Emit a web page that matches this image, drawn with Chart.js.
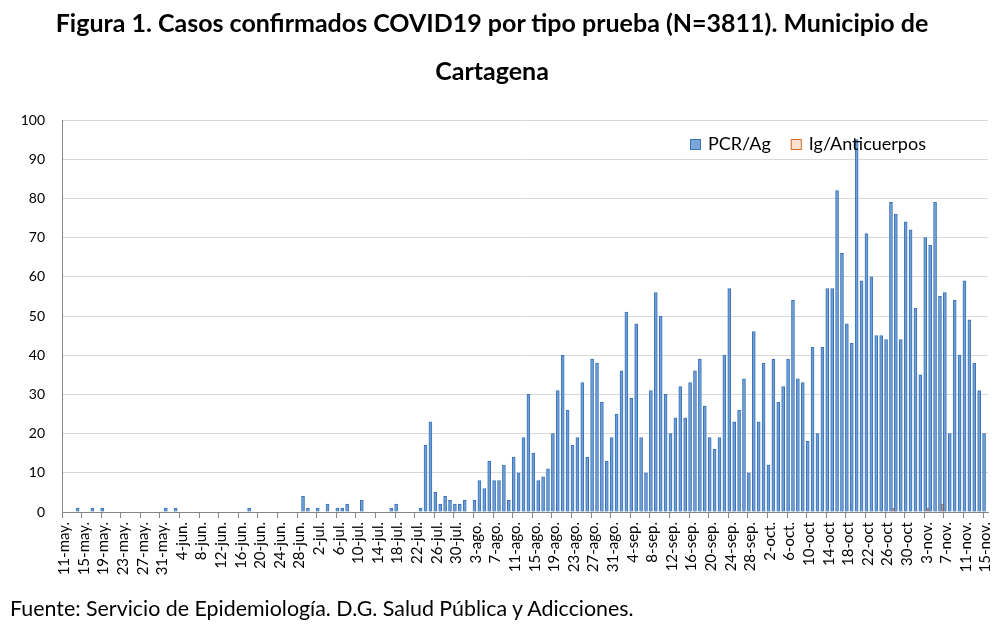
<!DOCTYPE html>
<html>
<head>
<meta charset="utf-8">
<script src="https://cdn.jsdelivr.net/npm/chart.js@4.4.1/dist/chart.umd.min.js"></script>
<style>
  html, body { margin: 0; padding: 0; background: #fff; }
  #wrap { position: relative; width: 1000px; height: 628px; overflow: hidden; font-family: Lato, "Open Sans", sans-serif; color: #000; }
  #title { position: absolute; left: -8px; top: -2px; width: 1000px; text-align: center; font-weight: bold; font-size: 25px; line-height: 48px; }
  #foot { position: absolute; left: 10px; top: 595px; font-size: 21.4px; }
  canvas { position: absolute; left: 0; top: 0; }
</style>
</head>
<body>
<div id="wrap">
  <canvas id="chart" width="1000" height="628"></canvas>
  <div id="title">Figura 1. Casos confirmados COVID19 por tipo prueba (N=3811). Municipio de<br>Cartagena</div>
  <div id="foot">Fuente: Servicio de Epidemiología. D.G. Salud Pública y Adicciones.</div>
</div>
<script>
// tick labels shown on the x axis (one every 4 days, 11-may .. 15-nov)
const tickLabels = ['11-may.','15-may.','19-may.','23-may.','27-may.','31-may.',
  '4-jun.','8-jun.','12-jun.','16-jun.','20-jun.','24-jun.','28-jun.',
  '2-jul.','6-jul.','10-jul.','14-jul.','18-jul.','22-jul.','26-jul.','30-jul.',
  '3-ago.','7-ago.','11-ago.','15-ago.','19-ago.','23-ago.','27-ago.','31-ago.',
  '4-sep.','8-sep.','12-sep.','16-sep.','20-sep.','24-sep.','28-sep.',
  '2-oct.','6-oct.','10-oct','14-oct','18-oct','22-oct','26-oct','30-oct',
  '3-nov.','7-nov.','11-nov.','15-nov.'];

// daily PCR/Ag cases, 11-may .. 15-nov (189 days)
const pcrAg = [
  0,0,0,1,0,0,1,0,1,0,
  0,0,0,0,0,0,0,0,0,0,
  0,1,0,1,0,0,0,0,0,0,
  0,0,0,0,0,0,0,0,1,0,
  0,0,0,0,0,0,0,0,0,4,
  1,0,1,0,2,0,1,1,2,0,
  0,3,0,0,0,0,0,1,2,0,
  0,0,0,1,17,23,5,2,4,3,
  2,2,3,0,3,8,6,13,8,8,
  12,3,14,10,19,30,15,8,9,11,
  20,31,40,26,17,19,33,14,39,38,
  28,13,19,25,36,51,29,48,19,10,
  31,56,50,30,20,24,32,24,33,36,
  39,27,19,16,19,40,57,23,26,34,
  10,46,23,38,12,39,28,32,39,54,
  34,33,18,42,20,42,57,57,82,66,
  48,43,95,59,71,60,45,45,44,79,
  76,44,74,72,52,35,70,68,79,55,
  56,20,54,40,59,49,38,31,20
];

// Ig/Anticuerpos: only a few days have cases
const igDays = ['27-oct', '3-nov', '6-nov'];
const igValues = [1, 1, 2];

// build the daily categories
const monthNames = ['ene','feb','mar','abr','may','jun','jul','ago','sep','oct','nov','dic'];
const categories = [];
for (let d = new Date(2020, 4, 11); d <= new Date(2020, 10, 15); d.setDate(d.getDate() + 1)) {
  categories.push(d.getDate() + '-' + monthNames[d.getMonth()]);
}
const igAnti = categories.map(c => {
  const k = igDays.indexOf(c);
  return k >= 0 ? igValues[k] : null;
});

// simple legend drawn inside the plot, top right
const legendPlugin = {
  id: 'insideLegend',
  afterDraw(chart) {
    const ctx = chart.ctx;
    let x = 690;
    const y = 144;
    ctx.save();
    ctx.font = '18px Lato, "Open Sans", sans-serif';
    ctx.textBaseline = 'middle';
    chart.data.datasets.forEach(ds => {
      ctx.fillStyle = ds.legendFill;
      ctx.fillRect(x, y - 5, 10, 10);
      ctx.strokeStyle = ds.borderColor;
      ctx.lineWidth = 1;
      ctx.strokeRect(x + 0.5, y - 4.5, 10, 10);
      ctx.fillStyle = '#000';
      ctx.fillText(ds.label, x + 18, y);
      x += 18 + ctx.measureText(ds.label).width + 20;
    });
    ctx.restore();
  }
};

new Chart(document.getElementById('chart').getContext('2d'), {
  type: 'bar',
  data: {
    labels: categories,
    datasets: [{
      label: 'PCR/Ag',
      data: pcrAg,
      backgroundColor: '#6f9fd6',
      borderColor: '#3a73b8',
      legendFill: '#7aa6da',
      borderWidth: 1,
      barThickness: 3
    }, {
      label: 'Ig/Anticuerpos',
      data: igAnti,
      backgroundColor: '#ec8f55',
      borderColor: '#d46a2a',
      legendFill: '#fbe0cf',
      borderWidth: 1,
      barThickness: 3
    }]
  },
  options: {
    responsive: false,
    animation: false,
    layout: { padding: { top: 120, right: 12, left: 0, bottom: 0 } },
    plugins: {
      legend: { display: false },
      tooltip: { enabled: false }
    },
    scales: {
      x: {
        afterFit: s => { s.height = 116; s.paddingLeft = 0; s.paddingRight = 0; },
        grid: {
          drawOnChartArea: false,
          drawTicks: true,
          tickLength: 6,
          color: c => (c.index % 4 === 0 ? '#868686' : 'rgba(0,0,0,0)')
        },
        border: { color: '#868686' },
        ticks: {
          autoSkip: false,
          maxRotation: 90,
          minRotation: 90,
          padding: 4,
          color: '#000',
          font: { family: 'Lato', size: 15 },
          callback: (v, i) => (i % 4 === 0 ? tickLabels[i / 4] : '')
        }
      },
      y: {
        min: 0,
        max: 100,
        afterFit: s => { s.width = 62; },
        ticks: {
          stepSize: 10,
          padding: 17,
          color: '#000',
          font: { family: 'Lato', size: 14 }
        },
        grid: { color: '#d9d9d9', drawTicks: false },
        border: { color: '#868686' }
      }
    }
  },
  plugins: [legendPlugin]
});
</script>
</body>
</html>
